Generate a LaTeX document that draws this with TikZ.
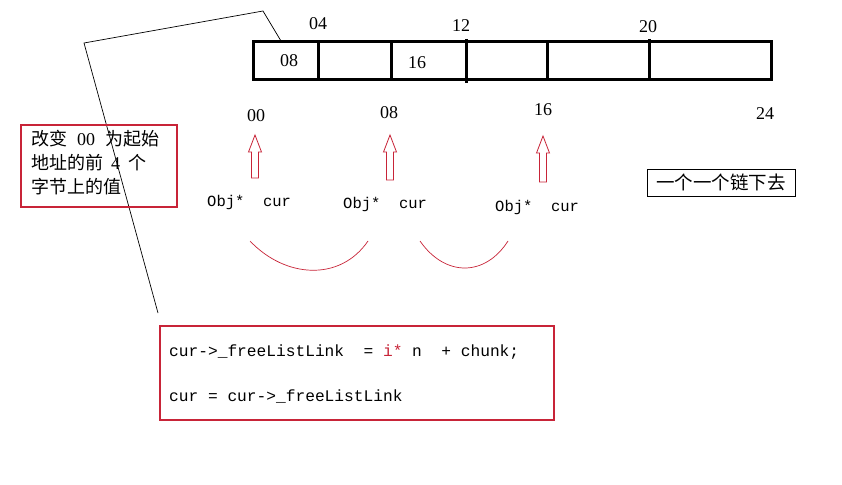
\documentclass[tikz,border=0pt]{standalone}
\usepackage{fontspec}
\setmainfont{Liberation Serif}
\setmonofont{Liberation Mono}
\newfontfamily\cjk{Noto Sans CJK SC}
\definecolor{rd}{RGB}{200,36,56}
\begin{document}
\begin{tikzpicture}[x=1pt,y=-1pt,
  lbl/.style={inner sep=0pt,font=\fontsize{18}{18}\selectfont},
  code/.style={inner sep=0pt,anchor=west,font=\fontsize{16.2}{16.2}\selectfont\ttfamily},
  objc/.style={inner sep=0pt,anchor=west,font=\fontsize{15.5}{15.5}\selectfont\ttfamily},
  cn/.style={inner sep=0pt,anchor=west,font=\fontsize{18}{18}\selectfont\cjk},
  hollow/.style={draw=rd,line width=0.8pt,fill=white},
  bar/.style={line width=3pt},
  arc/.style={draw=rd,line width=0.7pt},
  redbox/.style={draw=rd,line width=1.1pt,inner sep=0pt}]
\useasboundingbox (0,0) rectangle (842,484);
\fill[white] (0,0) rectangle (842,484);
% memory bar
\draw[bar] (253,42) rectangle (771,80);
\draw[bar] (318,42) -- (318,80);
\draw[bar] (391,42) -- (391,80);
\draw[bar] (466,39) -- (466,83);
\draw[bar] (547,42) -- (547,80);
\draw[bar] (649,39) -- (649,80);
% labels above
\node[lbl] (t04) at (318,24) {04};
\node[lbl] (t12) at (461,26) {12};
\node[lbl] (t20) at (648,27) {20};
% inside
\node[lbl] (i08) at (289,61) {08};
\node[lbl] (i16) at (417,63) {16};
% below
\node[lbl] (b00) at (256,116) {00};
\node[lbl] (b08) at (389,113) {08};
\node[lbl] (b16) at (543,110) {16};
\node[lbl] (b24) at (765,114) {24};
% hollow arrows
\foreach \cx/\t/\b in {255/135/178, 390/135/180, 543/136/182}{
  \draw[hollow] (\cx,\t) -- (\cx+6.5,\t+17) -- (\cx+3.5,\t+17) -- (\cx+3.5,\b)
    -- (\cx-3.5,\b) -- (\cx-3.5,\t+17) -- (\cx-6.5,\t+17) -- cycle;
}
% Obj* cur
\node[objc] (o1) at (207,202) {Obj*\ \ cur};
\node[objc] (o2) at (343,204) {Obj*\ \ cur};
\node[objc] (o3) at (495,207) {Obj*\ \ cur};
% red arcs
\draw[arc] (250,241) .. controls (285,278) and (340,282) .. (368,241);
\draw[arc] (420,241) .. controls (445,277) and (485,277) .. (508,241);
% left note text
\node[cn] (n1) at (31,139) {改变\hspace{10pt}{\rmfamily 00}\hspace{10pt}为起始};
\node[cn] (n2) at (31,163) {地址的前\hspace{8pt}{\rmfamily 4}\hspace{8pt}个};
\node[cn] (n3) at (31,187) {字节上的值};
% black polyline
\coordinate (p0) at (158,313);
\coordinate (p1) at (84,43);
\coordinate (p2) at (263,11);
\coordinate (p3) at (281,41);
\draw[line width=0.7pt] (p0) -- (p1) -- (p2) -- (p3);
% right box
\node[draw,line width=1pt,minimum width=148pt,minimum height=27pt,inner sep=0pt,font=\fontsize{18.5}{18.5}\selectfont\cjk] (chain) at (721,182.5) {一个一个链下去};
% code box
\node[redbox,minimum width=394pt,minimum height=94pt] (cbox) at (357,373) {};
\node[code] (c1) at (169,352) {cur->\_freeListLink\ \ = \textcolor{rd}{i*} n\ \ + chunk;};
\node[code] (c2) at (169,396) {cur = cur->\_freeListLink};
% left note frame
\node[redbox,minimum width=156pt,minimum height=82pt] (note) at (99,166) {};
\end{tikzpicture}
\end{document}
